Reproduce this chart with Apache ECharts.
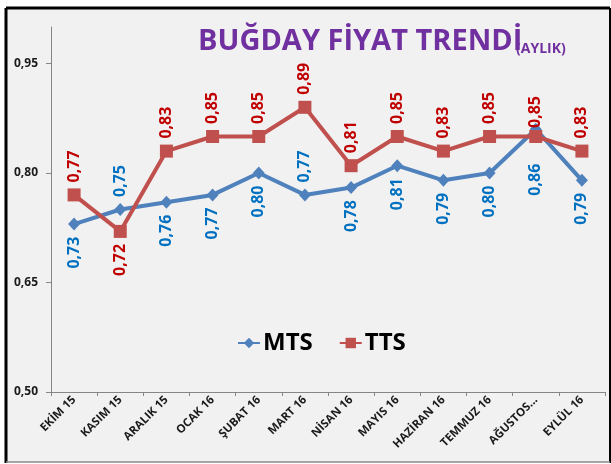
<!DOCTYPE html>
<html>
<head>
<meta charset="utf-8">
<script src="https://cdn.jsdelivr.net/npm/echarts@6/dist/echarts.min.js"></script>
<style>
    html, body { margin: 0; padding: 0; background: #fff; }
    #chart_main { width: 611px; height: 464px; }
</style>
</head>
<body>
<div id="chart_main"></div>
<script>
var months = ['EKİM 15', 'KASIM 15', 'ARALIK 15', 'OCAK 16', 'ŞUBAT 16', 'MART 16', 'NİSAN 16', 'MAYIS 16', 'HAZİRAN 16', 'TEMMUZ 16', 'AĞUSTOS...', 'EYLÜL 16'];
var mtsValues = [0.73, 0.75, 0.76, 0.77, 0.80, 0.77, 0.78, 0.81, 0.79, 0.80, 0.86, 0.79];
var ttsValues = [0.77, 0.72, 0.83, 0.85, 0.85, 0.89, 0.81, 0.85, 0.83, 0.85, 0.85, 0.83];
// which side of the point each value label sits on
var mtsLabelSide = ['bottom', 'top', 'bottom', 'bottom', 'bottom', 'top', 'bottom', 'bottom', 'bottom', 'bottom', 'bottom', 'bottom'];
var ttsLabelSide = ['top', 'bottom', 'top', 'top', 'top', 'top', 'top', 'top', 'top', 'top', 'top', 'top'];
var yTicks = [0.50, 0.65, 0.80, 0.95];

// extra label distance where labels would collide with the other series
var mtsLabelExtra = { 10: 22 };
var ttsLabelExtra = { 10: -4 };

var fontName = '"Open Sans", "DejaVu Sans", sans-serif';

function comma(v) {
    return Number(v).toFixed(2).replace('.', ',');
}

function buildData(values, sides, extra, color) {
    return values.map(function (v, i) {
        var up = sides[i] === 'top';
        return {
            value: v,
            label: {
                show: true,
                position: up ? 'top' : 'bottom',
                distance: 6 + (extra[i] || 0),
                rotate: 90,
                align: up ? 'left' : 'right',
                verticalAlign: 'middle',
                color: color,
                fontFamily: fontName,
                fontWeight: 'bold',
                fontSize: 16,
                formatter: function (p) { return comma(p.value); }
            }
        };
    });
}

var myChart = echarts.init(document.getElementById('chart_main'));
var option = {
    backgroundColor: '#fff',
    animation: false,
    title: [{
        text: 'BUĞDAY FİYAT TRENDİ',
        left: 193,
        top: 22,
        textStyle: { color: '#7030A0', fontFamily: fontName, fontWeight: 'bold', fontSize: 29 }
    }, {
        text: '(AYLIK)',
        left: 511,
        top: 37,
        textStyle: { color: '#7030A0', fontFamily: fontName, fontWeight: 'bold', fontSize: 14 }
    }],
    graphic: [
        { type: 'rect', z: -10, shape: { x: 6, y: 8, width: 603, height: 454 }, style: { fill: '#f1f1f1' } },
        { type: 'line', z: 100, shape: { x1: 6, y1: 8, x2: 610, y2: 8 }, style: { stroke: '#000', lineWidth: 3 } },
        { type: 'line', z: 100, shape: { x1: 6, y1: 8, x2: 6, y2: 463 }, style: { stroke: '#000', lineWidth: 3 } },
        { type: 'line', z: 100, shape: { x1: 610, y1: 8, x2: 610, y2: 463 }, style: { stroke: '#000', lineWidth: 2 } },
        { type: 'line', z: 100, shape: { x1: 6, y1: 462, x2: 610, y2: 462 }, style: { stroke: '#8a8a8a', lineWidth: 1.5 } }
    ],
    legend: {
        left: 232,
        top: 326,
        itemGap: 26,
        itemWidth: 22,
        itemHeight: 13,
        textStyle: { color: '#000', fontFamily: fontName, fontWeight: 'bold', fontSize: 24, padding: [0, 0, 0, -2] },
        data: ['MTS', 'TTS']
    },
    grid: { left: 51, right: 6, top: 27, bottom: 72 },
    xAxis: {
        type: 'category',
        data: months,
        boundaryGap: true,
        axisLine: { lineStyle: { color: '#868686', width: 1 } },
        axisTick: { show: true, length: 4, lineStyle: { color: '#868686' } },
        axisLabel: {
            rotate: 45,
            margin: 6,
            interval: 0,
            color: '#1a1a1a',
            fontFamily: fontName,
            fontWeight: 'bold',
            fontSize: 11.5
        }
    },
    yAxis: {
        type: 'value',
        min: 0.5,
        max: 1.0,
        interval: 0.15,
        splitLine: { show: false },
        axisLine: { show: true, lineStyle: { color: '#868686', width: 1 } },
        axisTick: { show: true, length: 5, customValues: yTicks, lineStyle: { color: '#868686' } },
        axisLabel: {
            customValues: yTicks,
            margin: 13,
            color: '#1a1a1a',
            fontFamily: fontName,
            fontWeight: 'bold',
            fontSize: 12,
            formatter: function (v) { return comma(v); }
        }
    },
    series: [{
        name: 'MTS',
        type: 'line',
        data: buildData(mtsValues, mtsLabelSide, mtsLabelExtra, '#0070C0'),
        symbol: 'diamond',
        symbolSize: [12, 13],
        color: '#4F81BD',
        lineStyle: { width: 4, color: '#4F81BD' },
        itemStyle: { color: '#4F81BD' }
    }, {
        name: 'TTS',
        type: 'line',
        data: buildData(ttsValues, ttsLabelSide, ttsLabelExtra, '#C00000'),
        symbol: 'rect',
        symbolSize: 13,
        color: '#C0504D',
        lineStyle: { width: 4, color: '#C0504D' },
        itemStyle: { color: '#C0504D' }
    }]
};
myChart.setOption(option);
</script>
</body>
</html>
